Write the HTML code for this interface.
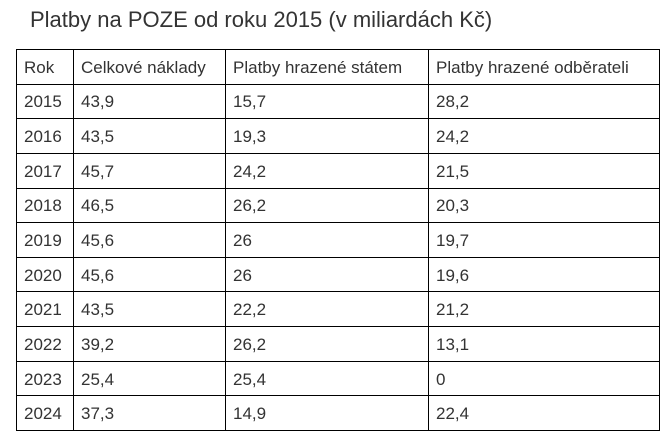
<!DOCTYPE html>
<html><head><meta charset="utf-8"><style>
body{margin:0;width:672px;height:444px;background:#fff;font-family:"Liberation Sans",sans-serif;color:#333;position:relative;overflow:hidden}
h1{position:absolute;left:30px;top:4px;margin:0;font-weight:normal;font-size:22px;line-height:32px;color:#333}
table{position:absolute;left:16px;top:49px;border-collapse:collapse;table-layout:fixed}
tr{height:34.65px}
td{border:1px solid #000;padding:2px 0 0 7px;font-size:17px;white-space:nowrap;box-sizing:border-box}
</style></head><body>
<h1>Platby na POZE od roku 2015 (v miliardách Kč)</h1>
<table>
<colgroup><col style="width:57px"><col style="width:152px"><col style="width:203px"><col style="width:231px"></colgroup>
<tr><td>Rok</td><td>Celkové náklady</td><td>Platby hrazené státem</td><td>Platby hrazené odběrateli</td></tr>
<tr><td>2015</td><td>43,9</td><td>15,7</td><td>28,2</td></tr>
<tr><td>2016</td><td>43,5</td><td>19,3</td><td>24,2</td></tr>
<tr><td>2017</td><td>45,7</td><td>24,2</td><td>21,5</td></tr>
<tr><td>2018</td><td>46,5</td><td>26,2</td><td>20,3</td></tr>
<tr><td>2019</td><td>45,6</td><td>26</td><td>19,7</td></tr>
<tr><td>2020</td><td>45,6</td><td>26</td><td>19,6</td></tr>
<tr><td>2021</td><td>43,5</td><td>22,2</td><td>21,2</td></tr>
<tr><td>2022</td><td>39,2</td><td>26,2</td><td>13,1</td></tr>
<tr><td>2023</td><td>25,4</td><td>25,4</td><td>0</td></tr>
<tr><td>2024</td><td>37,3</td><td>14,9</td><td>22,4</td></tr>
</table>
</body></html>
